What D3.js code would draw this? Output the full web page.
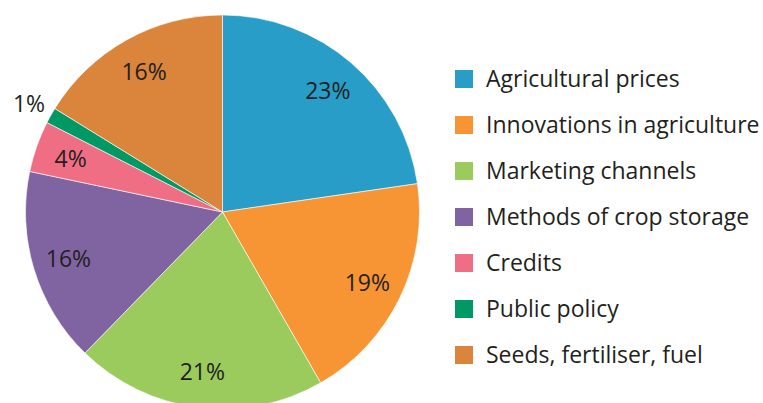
<!DOCTYPE html>
<html>
<head>
<meta charset="utf-8">
<script src="https://cdn.jsdelivr.net/npm/d3@7"></script>
<style>
  body { margin: 0; background: #fff; }
  text { font-family: "Open Sans", Lato, sans-serif; fill: #231f20; }
</style>
</head>
<body>
<div id="chart"></div>
<script>

var categories = ["Agricultural prices", "Innovations in agriculture", "Marketing channels",
    "Methods of crop storage", "Credits", "Public policy", "Seeds, fertiliser, fuel"];
var shares = [22.7, 19.0, 20.6, 16.0, 4.2, 1.3, 16.2];
var colors = ["#279dc8", "#f79433", "#9acb5c", "#8064a2", "#f06e84", "#009966", "#da843c"];

var width = 763, height = 403;
var cx = 222.5, cy = 212, radius = 197;

var svg = d3.select("#chart").append("svg").attr("width", width).attr("height", height);

var pie = d3.pie().sort(null).value(function (d) { return d; });
var arcs = pie(shares);

var arc = d3.arc().innerRadius(0).outerRadius(radius);
var labelArc = d3.arc().innerRadius(161).outerRadius(161);
var outerLabelArc = d3.arc().innerRadius(222).outerRadius(222);

var g = svg.append("g").attr("transform", "translate(" + cx + "," + cy + ")");

g.selectAll("path").data(arcs).enter().append("path")
    .attr("d", arc)
    .attr("fill", function (d, i) { return colors[i]; })
    .attr("stroke", "#fff")
    .attr("stroke-width", 0.6);

g.selectAll("text.pct").data(arcs).enter().append("text")
    .attr("class", "pct")
    .attr("transform", function (d) {
        var a = d.data < 2 ? outerLabelArc : labelArc;
        return "translate(" + a.centroid(d) + ")";
    })
    .attr("text-anchor", "middle")
    .attr("dy", "0.36em")
    .style("font-size", "23px")
    .text(function (d) { return Math.round(d.data) + "%"; });

// legend
var legend = svg.append("g").attr("transform", "translate(455,70)");
var rows = legend.selectAll("g").data(categories).enter().append("g")
    .attr("transform", function (d, i) { return "translate(0," + (i * 46) + ")"; });

rows.append("rect")
    .attr("width", 18).attr("height", 18)
    .attr("fill", function (d, i) { return colors[i]; });

rows.append("text")
    .attr("x", 31).attr("y", 17)
    .style("font-size", "23px")
    .text(function (d) { return d; });

</script>
</body>
</html>
